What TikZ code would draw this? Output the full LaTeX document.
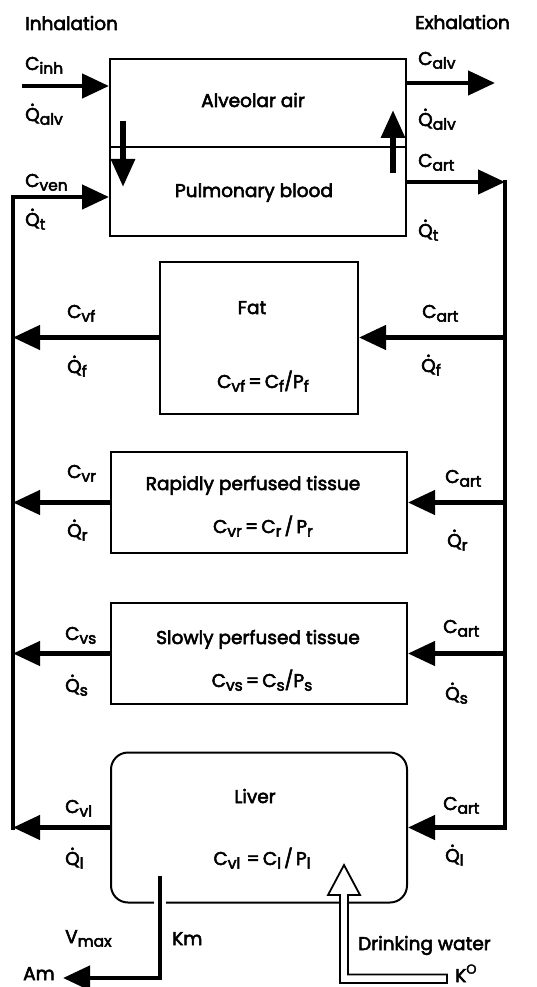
\documentclass[tikz,border=0pt]{standalone}
\usepackage{fontspec}
\setmainfont{Poppins}[FakeBold=3]
\usetikzlibrary{arrows.meta}
\newcommand{\sbs}[1]{\raisebox{-0.2em}{\fontsize{15.5}{15.5}\selectfont #1}}
\newcommand{\sps}[1]{\raisebox{0.45em}{\fontsize{13}{13}\selectfont #1}}
\newcommand{\Qd}{\leavevmode\hbox{\ooalign{Q\cr\hidewidth\raisebox{0.82em}{.}\hidewidth\cr}}}
\begin{document}
\begin{tikzpicture}[x=1pt,y=-1pt,
  every node/.style={font=\fontsize{18.5}{20}\selectfont, inner sep=0pt},
  box/.style={draw, line width=2pt, minimum width=296pt, minimum height=101pt},
  lbl/.style={anchor=base west},
  ctr/.style={anchor=base},
  flow/.style={line width=4.5pt, -{Triangle[length=27pt,width=24pt]}},
  gas/.style={line width=6pt, -{Triangle[length=28pt,width=23pt]}}]
\useasboundingbox (0,0) rectangle (537,987);

% boxes
\node[box, minimum height=177pt] (lung) at (258,147.5) {};
\node[box, minimum width=198pt, minimum height=152pt] (fat) at (259,337.5) {};
\node[box] (rapid) at (259,502.5) {};
\node[box] (slow) at (259,653.5) {};
\node[box, minimum height=150pt, rounded corners=17pt] (liver) at (259,827.5) {};

% lung interior
\coordinate (div) at (0,147);
\draw[line width=2pt] (lung.west |- div) -- (lung.east |- div);
\coordinate (dn1) at (123,121); \coordinate (dn2) at (123,187);
\coordinate (up1) at (393,173); \coordinate (up2) at (393,110);
\draw[gas] (dn1) -- (dn2);
\draw[gas] (up1) -- (up2);

% inhalation / exhalation
\coordinate (inS) at (22,86);
\coordinate (exE) at (495,83);
\draw[flow] (inS) -- (inS -| lung.west);
\draw[flow] (lung.east |- exE) -- (exE);

% circulation
\coordinate (L0) at (13,197);
\coordinate (R0) at (505,182);
\coordinate (R0top) at (505,179.75);
\draw[flow] ([yshift=-2.25pt]liver.west -| L0) -- (L0) -- (L0 -| lung.west);
\draw[flow] (lung.east |- R0) -- (R0);
\draw[flow] (R0top) -- (liver.east -| R0) -- (liver.east);
\foreach \b in {fat,rapid,slow}{
  \draw[flow] (\b.east -| R0) -- (\b.east);
  \draw[flow] (\b.west) -- (\b.west -| L0);
}
\draw[flow] (liver.west) -- (liver.west -| L0);

% metabolism
\coordinate (km1) at (160,876);
\coordinate (km2) at (160,978);
\coordinate (am) at (63,978);
\coordinate (gap1) at (160,897);
\coordinate (gap2) at (160,909);
\draw[white, line width=12pt] (gap1) -- (gap2);
\draw[flow] (km1) -- (km2) -- (am);

% drinking water (open arrow)
\draw[line width=1.8pt, fill=white, line join=miter]
  (447,974.5) -- (348,974.5) -- (348,895) -- (360,895) -- (344,865)
  -- (328,895) -- (340,895) -- (340,983) -- (447,983) -- cycle;

% texts
\node[lbl] (tinh) at (25,30) {Inhalation};
\node[lbl] (texh) at (415,29) {Exhalation};
\node[lbl] (tcinh) at (25,70) {C\sbs{inh}};
\node[lbl] (tqalvl) at (25,121) {\Qd\sbs{alv}};
\node[lbl] (tcalv) at (418,65) {C\sbs{alv}};
\node[lbl] (tqalvr) at (418,126) {\Qd\sbs{alv}};
\node[lbl] (tcart0) at (418,167) {C\sbs{art}};
\node[lbl] (tcven) at (25,187) {C\sbs{ven}};
\node[lbl] (tqtl) at (25,226) {\Qd\sbs{t}};
\node[lbl] (tqtr) at (418,237) {\Qd\sbs{t}};
\node[ctr] (talv) at (253,107) {Alveolar air};
\node[ctr] (tpul) at (254,197) {Pulmonary blood};

\node[ctr] (tfat) at (252,314) {Fat};
\node[ctr] (tfateq) at (263,388) {C\sbs{vf}\,=\,C\sbs{f}/P\sbs{f}};
\node[lbl] (tcvf) at (67,318) {C\sbs{vf}};
\node[lbl] (tqfl) at (67,373) {\Qd\sbs{f}};
\node[lbl] (tcart1) at (422,318) {C\sbs{art}};
\node[lbl] (tqfr) at (421,372) {\Qd\sbs{f}};

\node[ctr] (trap) at (253,490) {Rapidly perfused tissue};
\node[ctr] (trapeq) at (263,533) {C\sbs{vr}\,=\,C\sbs{r}\,/\,P\sbs{r}};
\node[lbl] (tcvr) at (67,478) {C\sbs{vr}};
\node[lbl] (tqrl) at (67,537) {\Qd\sbs{r}};
\node[lbl] (tcart2) at (445,483) {C\sbs{art}};
\node[lbl] (tqrr) at (447,547) {\Qd\sbs{r}};

\node[ctr] (tslo) at (258,644) {Slowly perfused tissue};
\node[ctr] (tsloeq) at (262,687) {C\sbs{vs}\,=\,C\sbs{s}/P\sbs{s}};
\node[lbl] (tcvs) at (65,640) {C\sbs{vs}};
\node[lbl] (tqsl) at (65,692) {\Qd\sbs{s}};
\node[lbl] (tcart3) at (443,633) {C\sbs{art}};
\node[lbl] (tqsr) at (445,700) {\Qd\sbs{s}};

\node[ctr] (tliv) at (255,803) {Liver};
\node[ctr] (tliveq) at (262,865) {C\sbs{vl}\,\,=\,C\sbs{l}\,/\,P\sbs{l}};
\node[lbl] (tcvl) at (65,813) {C\sbs{vl}};
\node[lbl] (tqll) at (65,865) {\Qd\sbs{l}};
\node[lbl] (tcart4) at (443,810) {C\sbs{art}};
\node[lbl] (tqlr) at (445,862) {\Qd\sbs{l}};

\node[lbl] (tvmax) at (65,943) {V\sbs{max}};
\node[lbl] (tkm) at (172,945) {Km};
\node[lbl] (tdw) at (358,950) {Drinking water};
\node[lbl] (tam) at (23,980) {Am};
\node[lbl] (tk0) at (455,982) {K\sps{O}};
\end{tikzpicture}
\end{document}
